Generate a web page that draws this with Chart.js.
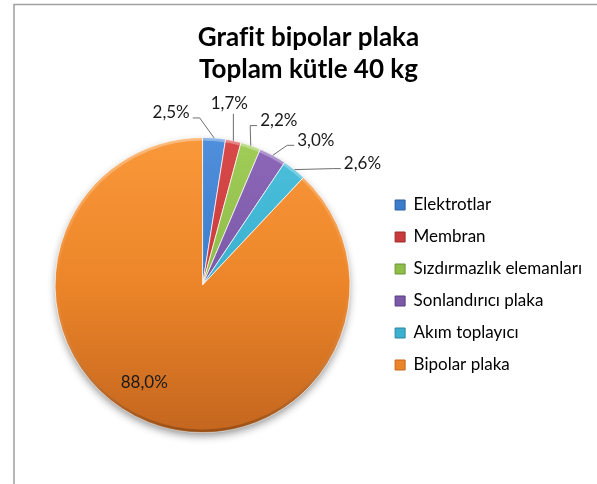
<!DOCTYPE html>
<html lang="tr">
<head>
<meta charset="utf-8">
<script src="https://cdn.jsdelivr.net/npm/chart.js@4.4.1/dist/chart.umd.min.js"></script>
<style>
  html, body { margin: 0; padding: 0; background: #fff; }
  #chart { display: block; }
</style>
</head>
<body>
<canvas id="chart" width="597" height="484"></canvas>
<script>
const categories = ["Elektrotlar", "Membran", "Sızdırmazlık elemanları", "Sonlandırıcı plaka", "Akım toplayıcı", "Bipolar plaka"];
const shares = [2.5, 1.7, 2.2, 3.0, 2.6, 88.0];
const titleLines = ["Grafit bipolar plaka", "Toplam kütle 40 kg"];

// Office palette: flat tone for the legend, light/dark ends for the slice gradients
const baseColors = ["#3b7ccc", "#c93a3c", "#8fbd4a", "#7c58a8", "#3bb0cf", "#ec8529"];
const lightColors = ["#4f8fdc", "#d84a4a", "#a0cc58", "#8d68ba", "#4cc0dc", "#f9983a"];
const darkColors = ["#2c5f9e", "#9e2c2c", "#6b9432", "#583c80", "#2a869e", "#c4661f"];

// label position relative to the rim point of its slice (outside labels get a leader line)
const labelOffsets = [[-43, -25], [-4, -37], [28, -25], [43, -15], [68, -6], [-4, -40]];
const labelInside = [false, false, false, false, false, true];

const formatShare = v => v.toFixed(1).replace(".", ",") + "%";

Chart.defaults.font.family = "Lato, 'Open Sans', sans-serif";

const frame = {
  id: "frame",
  beforeDraw(chart) {
    const { ctx, width, height } = chart;
    ctx.save();
    ctx.strokeStyle = "#a0a0a0";
    ctx.lineWidth = 1.5;
    ctx.beginPath();
    ctx.moveTo(width, 4.5);
    ctx.lineTo(14, 4.5);
    ctx.lineTo(14, height);
    ctx.stroke();
    ctx.restore();
  }
};

// soft drop shadow under the whole pie, plus a bevel-like rim on top of it
const pieShadow = {
  id: "pieShadow",
  beforeDatasetsDraw(chart) {
    const arc = chart.getDatasetMeta(0).data[0];
    if (!arc) return;
    const { x, y, outerRadius } = arc.getProps(["x", "y", "outerRadius"], true);
    const { ctx } = chart;
    ctx.save();
    ctx.shadowColor = "rgba(0,0,0,0.45)";
    ctx.shadowBlur = 8;
    ctx.shadowOffsetY = 4;
    ctx.fillStyle = "#fff";
    ctx.beginPath();
    ctx.arc(x, y, outerRadius - 1, 0, Math.PI * 2);
    ctx.fill();
    ctx.restore();
  },
  afterDatasetsDraw(chart) {
    const arc = chart.getDatasetMeta(0).data[0];
    if (!arc) return;
    const { x, y, outerRadius } = arc.getProps(["x", "y", "outerRadius"], true);
    const { ctx } = chart;
    const g = ctx.createLinearGradient(0, y - outerRadius, 0, y + outerRadius);
    g.addColorStop(0, "rgba(255,255,255,0.35)");
    g.addColorStop(0.5, "rgba(255,255,255,0)");
    g.addColorStop(1, "rgba(90,40,0,0.4)");
    ctx.save();
    ctx.strokeStyle = g;
    ctx.lineWidth = 3;
    ctx.beginPath();
    ctx.arc(x, y, outerRadius - 1.5, 0, Math.PI * 2);
    ctx.stroke();
    ctx.restore();
  }
};

const sliceLabels = {
  id: "sliceLabels",
  afterDatasetsDraw(chart) {
    const { ctx } = chart;
    const meta = chart.getDatasetMeta(0);
    ctx.save();
    ctx.font = "17px " + Chart.defaults.font.family;
    ctx.fillStyle = "#1a1a1a";
    ctx.strokeStyle = "#6e6e6e";
    ctx.lineWidth = 1;
    ctx.textAlign = "center";
    ctx.textBaseline = "middle";
    meta.data.forEach((arc, i) => {
      const { x, y, startAngle, endAngle, outerRadius } =
        arc.getProps(["x", "y", "startAngle", "endAngle", "outerRadius"], true);
      const mid = (startAngle + endAngle) / 2;
      const ex = x + Math.cos(mid) * outerRadius;
      const ey = y + Math.sin(mid) * outerRadius;
      const tx = ex + labelOffsets[i][0];
      const ty = ey + labelOffsets[i][1];
      const text = formatShare(shares[i]);
      ctx.fillText(text, tx, ty);
      if (labelInside[i]) return;
      const w = ctx.measureText(text).width;
      ctx.beginPath();
      if (Math.abs(tx - ex) < 12) {
        ctx.moveTo(ex, ty + 10);
        ctx.lineTo(ex, ey);
      } else {
        const side = tx < ex ? 1 : -1;
        const ax = tx + side * (w / 2 + 3);
        const ay = ty + 5;
        ctx.moveTo(ax, ay);
        ctx.lineTo(ax + side * 7, ay);
        ctx.lineTo(ex, ey);
      }
      ctx.stroke();
    });
    ctx.restore();
  }
};

function sliceFill(context) {
  const i = context.dataIndex;
  const area = context.chart.chartArea;
  if (!area) return baseColors[i];
  const g = context.chart.ctx.createLinearGradient(0, area.top, 0, area.bottom);
  g.addColorStop(0, lightColors[i]);
  g.addColorStop(0.5, baseColors[i]);
  g.addColorStop(1, darkColors[i]);
  return g;
}

new Chart(document.getElementById("chart"), {
  type: "pie",
  data: {
    labels: categories,
    datasets: [{
      data: shares,
      backgroundColor: sliceFill,
      borderColor: "rgba(255,255,255,0.7)",
      borderWidth: 1,
      hoverOffset: 0,
      clip: false
    }]
  },
  options: {
    responsive: false,
    animation: false,
    events: [],
    layout: { padding: { left: 25, right: 5, top: 0, bottom: 51 } },
    plugins: {
      title: {
        display: true,
        text: titleLines,
        color: "#000",
        font: { size: 26, weight: "bold", lineHeight: 32 / 26 },
        padding: { top: 22, bottom: 51 }
      },
      legend: {
        position: "right",
        fullSize: false,
        align: "center",
        labels: {
          boxWidth: 10,
          boxHeight: 10,
          padding: 15,
          color: "#1a1a1a",
          font: { size: 17 },
          generateLabels: () => categories.map((c, i) => ({
            text: c,
            fillStyle: baseColors[i],
            strokeStyle: darkColors[i],
            lineWidth: 1,
            hidden: false,
            index: i
          }))
        }
      },
      tooltip: { enabled: false }
    }
  },
  plugins: [frame, pieShadow, sliceLabels]
});
</script>
</body>
</html>
